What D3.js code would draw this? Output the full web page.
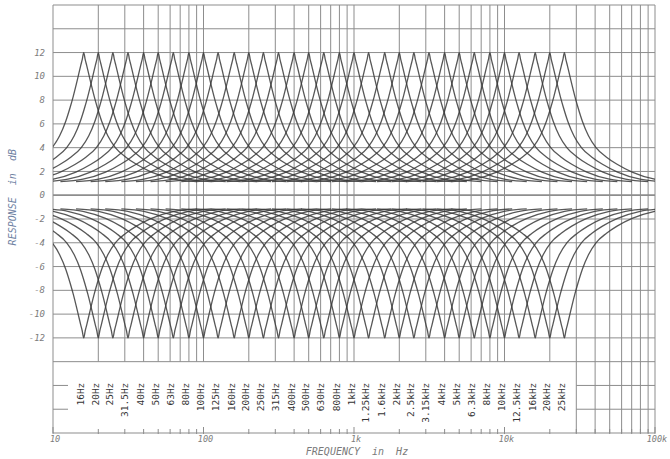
<!DOCTYPE html>
<html>
<head>
<meta charset="utf-8">
<script src="https://cdn.jsdelivr.net/npm/d3@7/dist/d3.min.js"></script>
<style>
  body { margin: 0; background: #fff; }
  svg { display: block; }
</style>
</head>
<body>
<div id="chart"></div>
<script>
// 1/3 octave band centres, as printed under the curves
const bandFreqs = [16, 20, 25, 31.5, 40, 50, 63, 80, 100, 125, 160, 200, 250, 315, 400, 500, 630, 800,
  1000, 1250, 1600, 2000, 2500, 3150, 4000, 5000, 6300, 8000, 10000, 12500, 16000, 20000, 25000];
const bandLabels = ["16Hz", "20Hz", "25Hz", "31.5Hz", "40Hz", "50Hz", "63Hz", "80Hz", "100Hz", "125Hz",
  "160Hz", "200Hz", "250Hz", "315Hz", "400Hz", "500Hz", "630Hz", "800Hz", "1kHz", "1.25kHz", "1.6kHz",
  "2kHz", "2.5kHz", "3.15kHz", "4kHz", "5kHz", "6.3kHz", "8kHz", "10kHz", "12.5kHz", "16kHz", "20kHz", "25kHz"];

// every band is plotted at full boost and at full cut
const bandGains = [12, -12];

// shape of one band at full boost:
// distance from the band centre (decades) -> level (dB)
const profileDecades = [0, 0.01, 0.02, 0.035, 0.05, 0.07, 0.09, 0.12, 0.16, 0.21, 0.28, 0.35, 0.45, 0.6, 0.75];
const profileDb      = [12, 11.4, 10.9, 10.1, 9.3, 8.3, 7.4, 6.2, 5.0, 4.0, 3.2, 2.6, 1.95, 1.35, 1.15];

const yTickValues = [12, 10, 8, 6, 4, 2, 0, -2, -4, -6, -8, -10, -12];
const yTickLabels = ["12", "10", "8", "6", "4", "2", "0", "-2", "-4", "-6", "-8", "-10", "-12"];
const xTickValues = [10, 100, 1000, 10000, 100000];
const xTickLabels = ["10", "100", "1k", "10k", "100k"];

const width = 670, height = 459;
const gridColor = "#8d8d8d";
const curveColor = "#3a3a3a";
const mono = "'DejaVu Sans Mono', 'Liberation Mono', monospace";

const x = d3.scaleLog().domain([10, 100000]).range([53, 655]);
const y = d3.scaleLinear().domain([-20, 16]).range([433, 5]);

const svg = d3.select("#chart").append("svg")
  .attr("width", width)
  .attr("height", height);

svg.append("defs").append("clipPath")
  .attr("id", "plot-clip")
  .append("rect")
  .attr("x", x(10))
  .attr("y", y(16))
  .attr("width", x(100000) - x(10))
  .attr("height", y(-20) - y(16));

// ---- grid ----
const grid = svg.append("g")
  .attr("stroke", gridColor)
  .attr("stroke-width", 1)
  .attr("fill", "none");

const gridFreqs = x.ticks();

grid.selectAll("line.v")
  .data(gridFreqs)
  .join("line")
  .attr("class", "v")
  .attr("x1", d => x(d))
  .attr("x2", d => x(d))
  .attr("y1", y(16))
  .attr("y2", d => (d >= 30000 || d === 10) ? y(-20) : y(-14));

grid.selectAll("line.h")
  .data(d3.range(-14, 17, 2))
  .join("line")
  .attr("class", "h")
  .attr("x1", x(10))
  .attr("x2", x(100000))
  .attr("y1", d => y(d))
  .attr("y2", d => y(d))
  .attr("stroke-width", d => d === 0 ? 1.7 : 1);

// lower band: lines only right of the last label, short ticks on the left
grid.selectAll("line.hl")
  .data([-16, -18])
  .join("line")
  .attr("class", "hl")
  .attr("x1", x(30000))
  .attr("x2", x(100000))
  .attr("y1", d => y(d))
  .attr("y2", d => y(d));

grid.selectAll("line.ht")
  .data([-16, -18])
  .join("line")
  .attr("class", "ht")
  .attr("x1", x(10))
  .attr("x2", x(10) + 15)
  .attr("y1", d => y(d))
  .attr("y2", d => y(d));

// bottom axis with small log ticks
grid.append("line")
  .attr("x1", x(10))
  .attr("x2", x(100000))
  .attr("y1", y(-20))
  .attr("y2", y(-20));

grid.selectAll("line.bt")
  .data(gridFreqs)
  .join("line")
  .attr("class", "bt")
  .attr("x1", d => x(d))
  .attr("x2", d => x(d))
  .attr("y1", y(-20) + 1)
  .attr("y2", d => y(-20) - (xTickValues.includes(d) ? 6 : 4));

// ---- curves ----
const line = d3.line()
  .x(d => x(d[0]))
  .y(d => y(d[1]))
  .curve(d3.curveMonotoneX);

const curves = [];
bandGains.forEach(g => {
  bandFreqs.forEach(f => {
    const pts = [];
    for (let i = profileDecades.length - 1; i > 0; i--) {
      pts.push([f * Math.pow(10, -profileDecades[i]), profileDb[i] * g / 12]);
    }
    for (let i = 0; i < profileDecades.length; i++) {
      pts.push([f * Math.pow(10, profileDecades[i]), profileDb[i] * g / 12]);
    }
    curves.push(pts);
  });
});

svg.append("g")
  .attr("clip-path", "url(#plot-clip)")
  .selectAll("path")
  .data(curves)
  .join("path")
  .attr("d", line)
  .attr("fill", "none")
  .attr("stroke", curveColor)
  .attr("stroke-width", 1.3)
  .attr("stroke-opacity", 0.85);

// ---- text ----
svg.append("g")
  .selectAll("text")
  .data(bandFreqs)
  .join("text")
  .attr("transform", d => `translate(${x(d) + 0.5},${y(-14) + 21}) rotate(-90)`)
  .attr("text-anchor", "end")
  .attr("font-family", mono)
  .attr("font-size", "9.5px")
  .attr("fill", "#333")
  .text((d, i) => bandLabels[i]);

svg.append("g")
  .selectAll("text")
  .data(yTickValues)
  .join("text")
  .attr("x", 45)
  .attr("y", d => y(d))
  .attr("dy", "0.35em")
  .attr("text-anchor", "end")
  .attr("font-family", mono)
  .attr("font-style", "italic")
  .attr("font-size", "9px")
  .attr("fill", "#7c7c7c")
  .text((d, i) => yTickLabels[i]);

svg.append("g")
  .selectAll("text")
  .data(xTickValues)
  .join("text")
  .attr("x", d => x(d) + 2)
  .attr("y", y(-20) + 9)
  .attr("text-anchor", "middle")
  .attr("font-family", mono)
  .attr("font-style", "italic")
  .attr("font-size", "8.5px")
  .attr("fill", "#7c7c7c")
  .text((d, i) => xTickLabels[i]);

svg.append("text")
  .attr("transform", `translate(16,${y(0) + 2}) rotate(-90)`)
  .attr("text-anchor", "middle")
  .attr("font-family", mono)
  .attr("font-style", "italic")
  .attr("font-size", "10px")
  .attr("fill", "#6f82a3")
  .attr("xml:space", "preserve")
  .text("RESPONSE  in  dB");

svg.append("text")
  .attr("x", 357)
  .attr("y", 455)
  .attr("text-anchor", "middle")
  .attr("font-family", mono)
  .attr("font-style", "italic")
  .attr("font-size", "10px")
  .attr("fill", "#7a7a7a")
  .attr("xml:space", "preserve")
  .text("FREQUENCY  in  Hz");
</script>
</body>
</html>
